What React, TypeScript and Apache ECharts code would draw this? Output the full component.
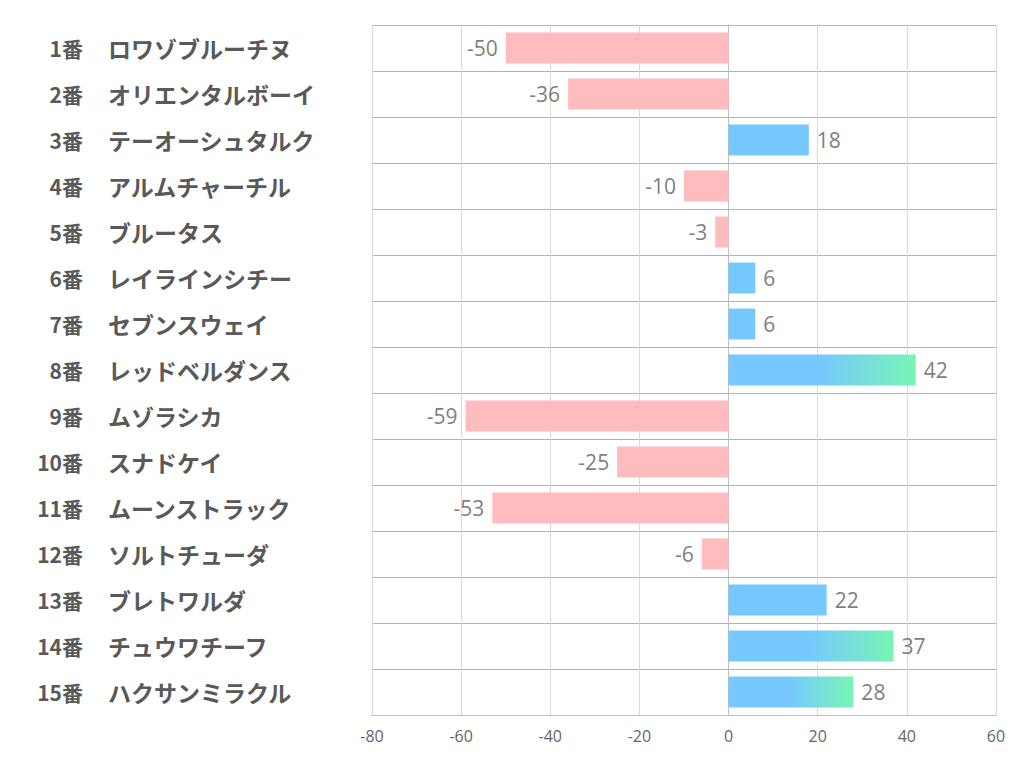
import React, { useEffect, useRef } from "react";
import * as echarts from "echarts";

const numbers = ["1番","2番","3番","4番","5番","6番","7番","8番","9番","10番","11番","12番","13番","14番","15番"];
const names = ["ロワゾブルーチヌ","オリエンタルボーイ","テーオーシュタルク","アルムチャーチル","ブルータス","レイラインシチー","セブンスウェイ","レッドベルダンス","ムゾラシカ","スナドケイ","ムーンストラック","ソルトチューダ","ブレトワルダ","チュウワチーフ","ハクサンミラクル"];
const values = [-50,-36,18,-10,-3,6,6,42,-59,-25,-53,-6,22,37,28];
const xTicks = [-80,-60,-40,-20,0,20,40,60];

const BLUE = "#76C8FF";
const GREEN = "#78F5B4";
const PINK = "#FFBCBE";
const JP = "'Noto Sans CJK JP', sans-serif";

export default function App() {
  const ref = useRef<HTMLDivElement>(null);
  useEffect(() => {
    document.body.style.margin = "0";
    const chart = echarts.init(ref.current!, null, { renderer: "svg" });
    const data = values.map((v) => {
      let color: any = v < 0 ? PINK : BLUE;
      if (v >= 25) {
        color = new echarts.graphic.LinearGradient(0, 0, 1, 0, [
          { offset: 0, color: BLUE },
          { offset: 0.48, color: BLUE },
          { offset: 1, color: GREEN },
        ]);
      }
      return {
        value: v,
        itemStyle: { color },
        label: { position: v < 0 ? "left" : "right" },
      };
    });
    chart.setOption({
      animation: false,
      grid: { left: 372, right: 26, top: 25, bottom: 67, containLabel: false },
      xAxis: {
        type: "value",
        min: xTicks[0],
        max: xTicks[xTicks.length - 1],
        interval: 20,
        axisLine: { show: true, lineStyle: { color: "#BFBFBF", width: 1 } },
        axisTick: { show: false },
        splitLine: { show: true, lineStyle: { color: "#D9D9D9", width: 1 } },
        axisLabel: {
          margin: 13,
          color: "#666666",
          fontSize: 16,
          fontFamily: "'Open Sans', 'Noto Sans', sans-serif",
        },
      },
      yAxis: [
        {
          type: "category",
          inverse: true,
          data: numbers,
          position: "left",
          axisLine: { show: true, lineStyle: { color: "#BFBFBF" } },
          axisTick: { show: false },
          splitLine: { show: true, lineStyle: { color: "#B3B3B3", width: 1 } },
          axisLabel: {
            margin: 289,
            align: "right",
            fontSize: 21,
            fontWeight: "bold",
            color: "#595959",
            fontFamily: JP,
            padding: [0, 0, 5, 0],
          },
        },
        {
          type: "category",
          inverse: true,
          data: names,
          position: "left",
          offset: 0,
          axisLine: { show: false },
          axisTick: { show: false },
          splitLine: { show: false },
          axisLabel: {
            margin: 264,
            align: "left",
            fontSize: 23,
            fontWeight: "bold",
            color: "#595959",
            fontFamily: JP,
            padding: [0, 0, 5, 0],
          },
        },
      ],
      series: [
        {
          type: "bar",
          data,
          yAxisIndex: 0,
          barWidth: 31,
          label: {
            show: true,
            distance: 8,
            color: "#7F7F7F",
            fontSize: 21,
            fontFamily: "'Open Sans', 'Noto Sans', sans-serif",
          },
        },
      ],
    });
    return () => chart.dispose();
  }, []);
  return <div ref={ref} style={{ width: 1022, height: 782 }} />;
}
